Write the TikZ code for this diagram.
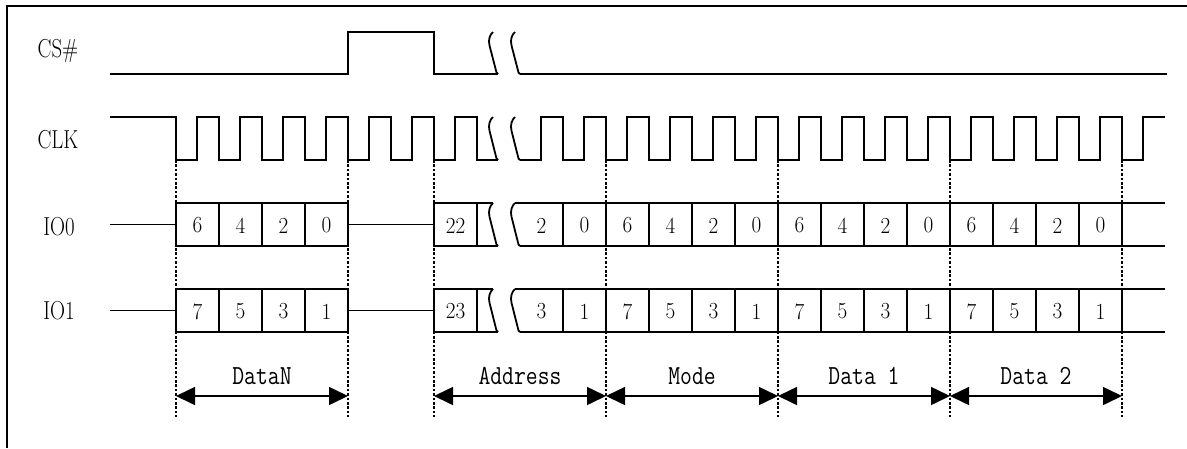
\documentclass[tikz,border=0pt]{standalone}
\usepackage{fontspec}
\usetikzlibrary{arrows.meta}
\newcommand\brkdraw[3]{\draw[wave] ({#1-5},{#2}) .. controls ({#1-8},{#2+0.06*(#3-#2)}) and ({#1-10},{#2+0.18*(#3-#2)}) .. ({#1-8.5},{#2+0.32*(#3-#2)}) -- ({#1-1.5},{#3-1.5}) .. controls ({#1-1},{#3}) .. (#1,#3);}
\newcommand\narrowtxt[1]{\scalebox{0.8}[1]{#1}}
\newcommand\digittxt[1]{\scalebox{0.92}[1]{#1}}
\newcommand\talltxt[1]{\scalebox{1}[1.2]{#1}}
\begin{document}
\begin{tikzpicture}[x=1pt,y=-1pt,
  wave/.style={line width=1.8pt},
  guideline/.style={line width=1.8pt, dash pattern=on 2.6pt off 1.8pt},
  dimarrow/.style={line width=1.6pt, {Triangle[length=19pt,width=18pt]}-{Triangle[length=19pt,width=18pt]}},
  siglabel/.style={font=\fontsize{26}{28}\selectfont},
  cellnum/.style={font=\fontsize{23}{25}\selectfont},
  seglabel/.style={font=\fontsize{23}{25}\selectfont\ttfamily}]
\useasboundingbox (0,0) rectangle (1187,448);
% frame (cropped)
\draw[line width=1.8pt] (7,448) -- (7,6) -- (1187,6);
% signal names
\node[siglabel] (lcs) at (58,51) {\narrowtxt{CS\#}};
\node[siglabel] (lclk) at (58,140) {\narrowtxt{CLK}};
\node[siglabel] (lio0) at (59,227) {\narrowtxt{IO0}};
\node[siglabel] (lio1) at (59,311) {\narrowtxt{IO1}};
% CS#
\draw[wave] (110,74) -- (348,74) -- (348,32) -- (434,32) -- (434,74) -- (498,74);
\brkdraw{498}{32}{74}
\brkdraw{520}{32}{74}
\draw[wave] (520,74) -- (1167,74);
% CLK
\draw[wave] (110,117) foreach \k in {0,...,6} { -- ({176+43*\k},117) -- ({176+43*\k},160) -- ({197+43*\k},160) -- ({197+43*\k},117) } -- (477,117) -- (477,160) -- (498,160);
\brkdraw{498}{117}{160}
\brkdraw{520}{117}{160}
\draw[wave] (520,160) foreach \k in {8,...,21} { -- ({197+43*\k},160) -- ({197+43*\k},117) -- ({219+43*\k},117) -- ({219+43*\k},160) } -- (1143,160) -- (1143,117) -- (1165,117);
% IO rows
\foreach \t/\b/\m in {203/246/224.5, 289/332/310.5} {
  \draw[wave] (110,\m) -- (176,\m);
  \draw[wave] (176,\t) rectangle (348,\b);
  \foreach \x in {219,262,305} \draw[wave] (\x,\t) -- (\x,\b);
  \draw[wave] (348,\m) -- (434,\m);
  \draw[wave] (493,\t) -- (434,\t) -- (434,\b) -- (498,\b);
  \draw[wave] (477,\t) -- (477,\b);
  \brkdraw{498}{\t}{\b}
  \brkdraw{520}{\t}{\b}
  \draw[wave] (515,\t) -- (1165,\t);
  \draw[wave] (520,\b) -- (1165,\b);
  \foreach \k in {9,...,22} \draw[wave] ({176+43*\k},\t) -- ({176+43*\k},\b);
}
% cell numbers
\foreach \k/\v in {0/6,1/4,2/2,3/0,6/22,8/2,9/0,10/6,11/4,12/2,13/0,14/6,15/4,16/2,17/0,18/6,19/4,20/2,21/0}
  \node[cellnum] (na\k) at ({197.5+43*\k},225.5) {\digittxt{\v}};
\foreach \k/\v in {0/7,1/5,2/3,3/1,6/23,8/3,9/1,10/7,11/5,12/3,13/1,14/7,15/5,16/3,17/1,18/7,19/5,20/3,21/1}
  \node[cellnum] (nb\k) at ({197.5+43*\k},311.5) {\digittxt{\v}};
% guide lines
\foreach \k in {0,4,6,10,14,18,22} {
  \draw[guideline] ({176+43*\k},160) -- ({176+43*\k},417);
  \coordinate (g\k) at ({176+43*\k},396);
}
% dimension arrows
\draw[dimarrow] (g0) -- (g4);
\draw[dimarrow] (g6) -- (g10);
\draw[dimarrow] (g10) -- (g14);
\draw[dimarrow] (g14) -- (g18);
\draw[dimarrow] (g18) -- (g22);
\node[seglabel] (tdn) at (262,376) {\talltxt{DataN}};
\node[seglabel] (tad) at (520,376) {\talltxt{Address}};
\node[seglabel] (tmo) at (692,376) {\talltxt{Mode}};
\node[seglabel] (td1) at (864,376) {\talltxt{Data 1}};
\node[seglabel] (td2) at (1036,376) {\talltxt{Data 2}};
\end{tikzpicture}
\end{document}
